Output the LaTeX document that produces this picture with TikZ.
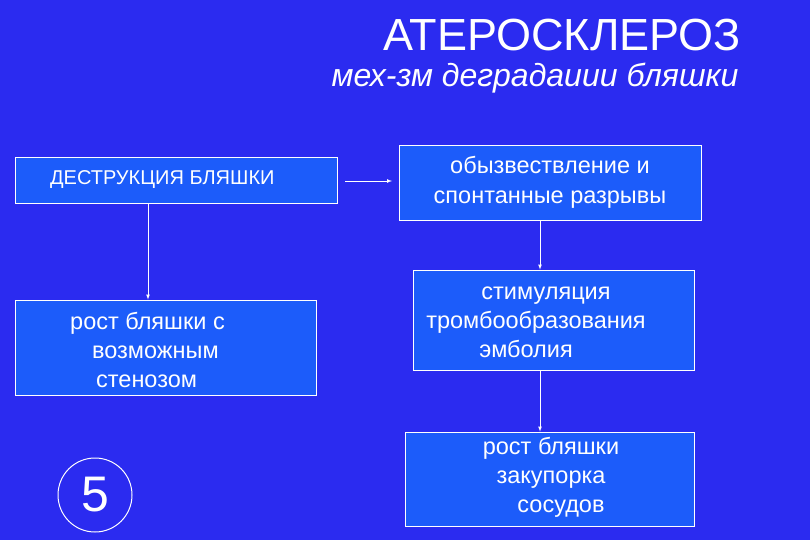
\documentclass[tikz,border=0pt]{standalone}
\usepackage{fontspec}
\setmainfont{Liberation Sans}
\definecolor{bg}{RGB}{43,43,240}
\definecolor{bx}{RGB}{28,92,250}
\begin{document}
\begin{tikzpicture}[x=1pt,y=-1pt,
  box/.style={draw=white,fill=bx,line width=0.8pt,text=white,font=\fontsize{23.5}{30}\selectfont},
  txt/.style={text=white,font=\fontsize{23.5}{29}\selectfont,inner sep=0},
  arr/.style={draw=white,line width=0.7pt,-latex}]
\fill[bg] (0,0) rectangle (810,540);
\node[text=white,font=\fontsize{45}{48}\selectfont] (t) at (562,35) {АТЕРОСКЛЕРОЗ};
\node[text=white,font=\itshape\fontsize{32}{36}\selectfont] (s) at (535,78) {мех-зм деградаиии бляшки};
\node[box,minimum width=322,minimum height=46] (b1) at (176,180) {};
\node[text=white,font=\fontsize{20}{24}\selectfont,anchor=west,inner sep=0] at (50,180) {ДЕСТРУКЦИЯ БЛЯШКИ};
\node[box,minimum width=302,minimum height=75,align=center] (b2) at (550,182.5) {обызвествление и\\спонтанные разрывы};
\node[box,minimum width=301,minimum height=95] (b3) at (165.5,347.5) {};
\node[txt,align=left,anchor=north west] at (70,312) {рост бляшки с\\\hspace*{22pt}возможным\\\hspace*{26pt}стенозом};
\node[box,minimum width=281,minimum height=100] (b4) at (553.5,320) {};
\node[txt,align=center] at (536,322) {\hspace*{20pt}стимуляция\\тромбообразования\\\hspace*{-20pt}эмболия};
\node[box,minimum width=289,minimum height=94] (b5) at (549.5,479) {};
\node[txt,align=center] at (551,477) {рост бляшки\\закупорка\\\hspace*{20pt}сосудов};
\node[circle,draw=white,line width=1pt,minimum size=74,text=white,font=\fontsize{50}{52}\selectfont] (c) at (95,495) {5};
\coordinate (h1) at (345,181); \coordinate (h2) at (392,181);
\draw[arr] (h1) -- (h2);
\draw[arr] (148,203) -- (b3.north -| 148,0);
\draw[arr] (540,220) -- (b4.north -| 540,0);
\draw[arr] (540,370) -- (b5.north -| 540,0);
\end{tikzpicture}
\end{document}
